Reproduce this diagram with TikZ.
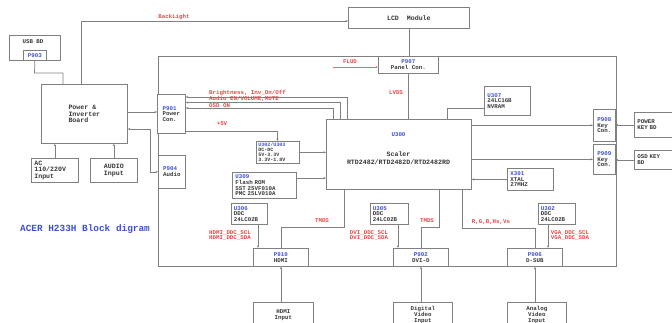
\documentclass[tikz,border=0pt]{standalone}
\usepackage{fontspec}
\setmonofont{Liberation Mono}
\usetikzlibrary{arrows.meta}
\definecolor{wgray}{RGB}{128,128,128}
\definecolor{tgray}{RGB}{55,55,55}
\definecolor{myred}{RGB}{232,70,70}
\definecolor{myblue}{RGB}{60,80,210}
\newcommand\fA{\fontsize{6.6}{6.6}\selectfont\ttfamily\bfseries}
\newcommand\fB{\fontsize{5.8}{5.7}\selectfont\ttfamily\bfseries}
\newcommand\fC{\fontsize{5}{5.2}\selectfont\ttfamily\bfseries}
\newcommand\fT{\fontsize{9.4}{10}\selectfont\ttfamily\bfseries}
\newcommand\bl[1]{{\color{myblue}#1}}
\tikzset{
  box/.style={draw=wgray, line width=0.7pt, fill=white, inner sep=1pt, anchor=north west, align=center, font=\fA, text=tgray},
  sbox/.style={box, font=\fB},
  wire/.style={draw=wgray, line width=0.7pt},
  rwire/.style={draw=myred!80, line width=0.7pt},
  arr/.style={-{Stealth[length=2.6pt,width=2.2pt]}},
  lbl/.style={text=myred, font=\fB, inner sep=0pt, align=left}
}
\begin{document}
\begin{tikzpicture}[x=1pt,y=-1pt]
\useasboundingbox (0,0) rectangle (672,322);
\clip (0,0) rectangle (672,322);
% main board
\node[draw=wgray, line width=0.7pt, minimum width=458pt, minimum height=210pt, anchor=north west, inner sep=0pt] (board) at (158,56) {};
% USB BD
\node[box, minimum width=51pt, minimum height=25pt] (usb) at (9,35) {};
\node[font=\fB, text=tgray, inner sep=0pt] (usbt) at (33,42) {USB BD};
\node[sbox, minimum width=23pt, minimum height=10pt, inner sep=0pt] (p903) at (23,50) {\bl{P903}};
% LCD
\node[box, minimum width=121pt, minimum height=21pt] (lcd) at (348,7) {LCD\ \ Module};
\node[sbox, minimum width=60pt, minimum height=17pt] (panel) at (378,56) {\bl{P907}\\Panel Con.};
% power board
\node[box, minimum width=86pt, minimum height=59pt, align=left] (power) at (41,84) {Power \&\\Inverter\\Board};
\node[box, minimum width=47pt, minimum height=24pt, align=left, text width=41pt] (ac) at (31,158) {AC\\110/220V\\Input};
\node[box, minimum width=47pt, minimum height=24pt] (audioin) at (90,158) {AUDIO\\Input};
\node[sbox, minimum width=28pt, minimum height=39pt, align=left] (pcon) at (157,94) {\bl{P901}\\Power\\Con.};
\node[sbox, minimum width=27pt, minimum height=33pt, align=left] (paudio) at (158,155) {\bl{P904}\\Audio};
% scaler
\node[box, minimum width=145pt, minimum height=70pt] (scaler) at (326,119) {};
\node[font=\fB, inner sep=0pt] (sc1) at (398.5,135) {\bl{U300}};
\node[font=\fA, text=tgray, inner sep=0pt, align=center] (sc2) at (398.5,158) {Scaler\\[2pt]RTD2482/RTD2482D/RTD2482RD};
\node[sbox, minimum width=46pt, minimum height=29pt, align=left, text width=40pt] (u307) at (484,86) {\bl{U307}\\24LC16B\\NVRAM};
\node[box, font=\fC, minimum width=43pt, minimum height=22pt, align=left, text width=39pt] (reg) at (256,141) {\bl{U302/U303}\\DC-DC\\5V-3.3V\\3.3V-1.8V};
\node[sbox, minimum width=64pt, minimum height=26pt, align=left, text width=58pt] (flash) at (232,172) {\bl{U309}\\Flash ROM\\SST 25VF010A\\PMC 25LV010A};
\node[sbox, minimum width=46pt, minimum height=22pt, align=left, text width=40pt] (xtal) at (507,168) {\bl{X301}\\XTAL\\27MHZ};
% key con
\node[sbox, minimum width=22pt, minimum height=32pt, align=left, inner sep=0.5pt] (key1) at (593,109) {\bl{P908}\\Key\\Con.};
\node[sbox, minimum width=22pt, minimum height=30pt, align=left, inner sep=0.5pt] (key2) at (593,144) {\bl{P909}\\Key\\Con.};
\node[sbox, minimum width=45pt, minimum height=25pt, align=left, text width=39pt] (pwrkey) at (634,112) {POWER\\KEY BD};
\node[sbox, minimum width=45pt, minimum height=19pt, align=left, text width=39pt] (osdkey) at (634,150) {OSD KEY\\BD};
% DDC
\node[sbox, minimum width=36pt, minimum height=21pt, align=left, text width=31pt] (u306) at (231,203) {\bl{U306}\\DDC\\24LC02B};
\node[sbox, minimum width=38pt, minimum height=21pt, align=left, text width=33pt] (u305) at (370,203) {\bl{U305}\\DDC\\24LC02B};
\node[sbox, minimum width=37pt, minimum height=21pt, align=left, text width=32pt] (u302) at (538,203) {\bl{U302}\\DDC\\24LC02B};
% connectors on bottom edge
\node[sbox, minimum width=55pt, minimum height=18pt] (hdmi) at (253,248) {\bl{P910}\\HDMI};
\node[sbox, minimum width=55pt, minimum height=18pt] (dvi) at (393,248) {\bl{P902}\\DVI-D};
\node[sbox, minimum width=55pt, minimum height=18pt] (dsub) at (507,248) {\bl{P906}\\D-SUB};
\node[sbox, minimum width=60pt, minimum height=25pt] (hdmiin) at (253,302) {HDMI\\Input};
\node[sbox, minimum width=59pt, minimum height=25pt] (digin) at (393,302) {Digital\\Video\\Input};
\node[sbox, minimum width=59pt, minimum height=25pt] (anain) at (507,302) {Analog\\Video\\Input};
% title
\node[font=\fT, text=myblue, inner sep=0pt] (title) at (85,229) {ACER H233H Block digram};
% ---- wires
\coordinate (c1) at (34.5,73);
\coordinate (c2) at (63,73);
\draw[wire] (p903.south) -- (c1) -- (c2) -- (c2 |- power.north);
\coordinate (bk) at (81,21);
\draw[wire,arr] (bk |- power.north) -- (bk) -- (bk -| lcd.west);
\node[lbl] (bklbl) at (174,17) {BackLight};
\draw[wire] (lcd.south) -- (lcd.south |- panel.north);
\coordinate (fl) at (333,67);
\draw[rwire,arr] (fl) -- (fl -| panel.west);
\node[lbl] (fllbl) at (350,62) {FLUD};
\draw[wire] (panel.south) -- (panel.south |- scaler.north);
\node[lbl] (lvds) at (396,93) {LVDS};
\coordinate (e1) at (447,108);
\draw[wire] (e1 -| u307.west) -- (e1) -- (e1 |- scaler.north);
\coordinate (p1) at (127,112);
\draw[wire,arr] (p1) -- (p1 -| pcon.west);
\coordinate (p2) at (150,129);
\draw[wire,{Stealth[length=2.6pt,width=2.2pt]}-{Stealth[length=2.6pt,width=2.2pt]}] (p2 -| power.east) -- (p2) |- (paudio.west);
\draw[wire,arr] (ac.north) -- (ac.north |- power.south);
\draw[wire,arr] (audioin.north) -- (audioin.north |- power.south);
% power con to scaler
\coordinate (q1) at (347,97);
\coordinate (q2) at (340,102.5);
\coordinate (q3) at (333,108);
\draw[wire,arr] (q1 |- scaler.north) -- (q1) -- (q1 -| pcon.east);
\draw[wire,arr] (q2 |- scaler.north) -- (q2) -- (q2 -| pcon.east);
\draw[wire,arr] (q3 |- scaler.north) -- (q3) -- (q3 -| pcon.east);
\node[lbl, anchor=south west] (l1) at (209,96.3) {Brightness, Inv\_On/Off};
\node[lbl, anchor=south west] (l2) at (209,101.8) {Audio EN/VOLUME,MUTE};
\node[lbl, anchor=south west] (l3) at (209,107.3) {OSD ON};
\coordinate (v5) at (277.5,131);
\draw[wire,arr] (v5 -| pcon.east) -- (v5) -- (v5 |- reg.north);
\node[lbl] (v5l) at (222,124) {+5V};
\draw[wire,arr] (reg.east) -- (reg.east -| scaler.west);
\coordinate (f1) at (296,178);
\draw[wire,arr] (f1) -- (f1 -| scaler.west);
\draw[wire,arr] (xtal.west) -- (xtal.west -| scaler.east);
\draw[wire,arr] (key1.west -| scaler.east) -- (key1.west);
\draw[wire,arr] (key2.west -| scaler.east) -- (key2.west);
\draw[wire,arr] (pwrkey.west) -- (pwrkey.west -| key1.east);
\draw[wire,arr] (osdkey.west) -- (osdkey.west -| key2.east);
% bottom
\coordinate (t1) at (344,227);
\draw[wire] (t1 |- scaler.south) -- (t1) -| (hdmi.north);
\node[lbl] (tm1) at (322,221) {TMDS};
\coordinate (t2) at (439,227);
\draw[wire] (t2 |- scaler.south) -- (t2) -| (dvi.north);
\node[lbl] (tm2) at (427,221) {TMDS};
\coordinate (t3) at (462,228);
\draw[wire] (t3 |- scaler.south) -- (t3) -| (dsub.north);
\node[lbl] (rgb) at (491,222) {R,G,B,Hs,Vs};
\coordinate (d1) at (258,0);
\draw[wire,arr] (d1 |- u306.south) -- (d1 |- hdmi.north);
\coordinate (d2) at (398,0);
\draw[wire,arr] (d2 |- u305.south) -- (d2 |- dvi.north);
\coordinate (d3) at (548,0);
\draw[wire,arr] (d3 |- u302.south) -- (d3 |- dsub.north);
\node[lbl] (hd) at (230,235.5) {HDMI\_DDC\_SCL\\HDMI\_DDC\_SDA};
\node[lbl] (dv) at (369,235.5) {DVI\_DDC\_SCL\\DVI\_DDC\_SDA};
\node[lbl] (vg) at (570,235.5) {VGA\_DDC\_SCL\\VGA\_DDC\_SDA};
\draw[wire,arr] (hdmi.south |- hdmiin.north) -- (hdmi.south);
\draw[wire,arr] (dvi.south |- digin.north) -- (dvi.south);
\draw[wire,arr] (dsub.south |- anain.north) -- (dsub.south);
\end{tikzpicture}
\end{document}
